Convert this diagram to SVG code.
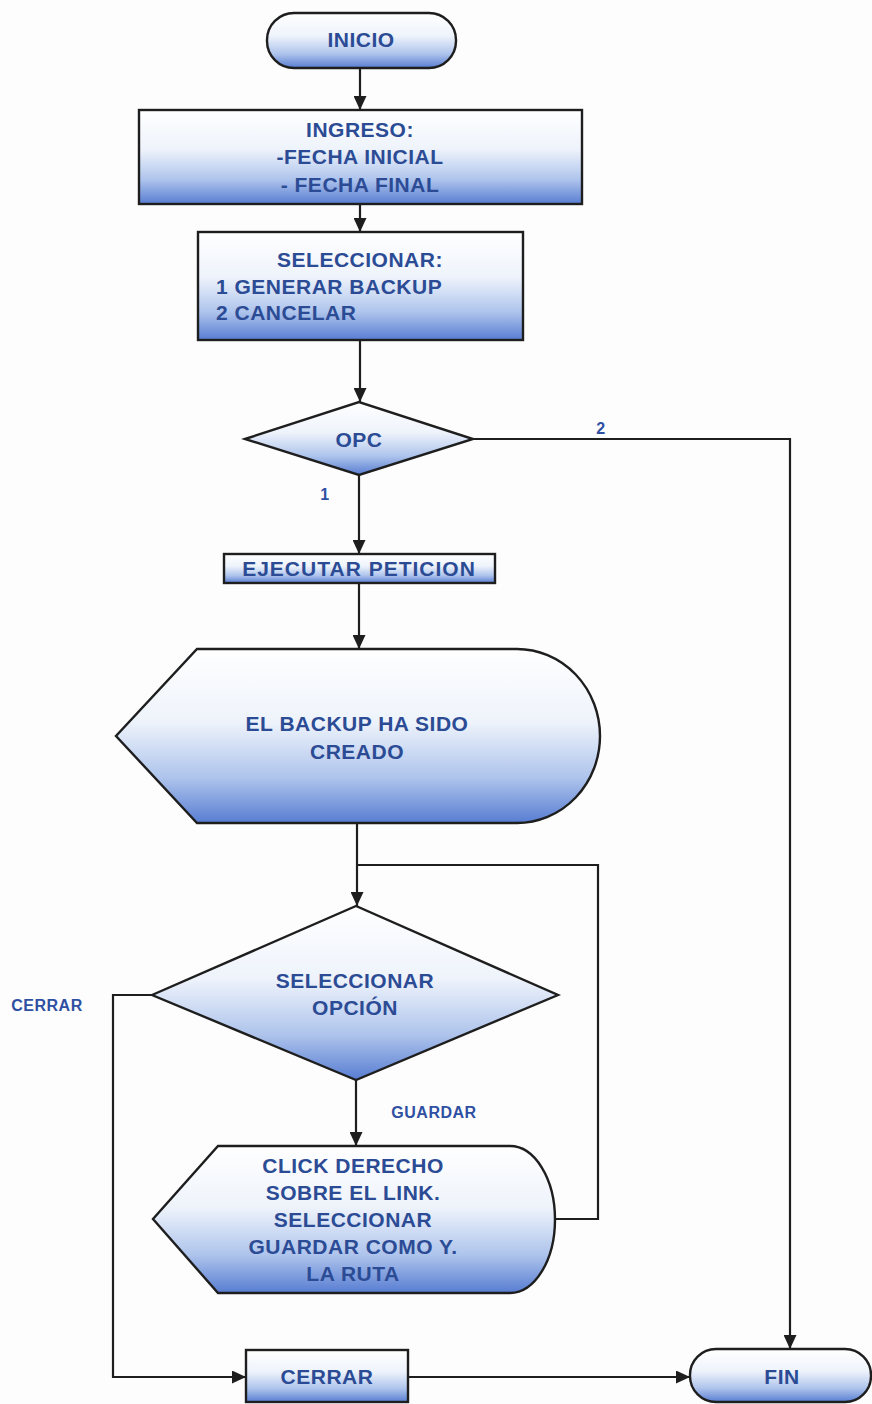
<svg xmlns="http://www.w3.org/2000/svg" width="872" height="1404" viewBox="0 0 872 1404">
  <defs>
    <linearGradient id="fillBlue" x1="0" y1="0" x2="0" y2="1">
      <stop offset="0" stop-color="#ffffff"/>
      <stop offset="0.42" stop-color="#eef3fb"/>
      <stop offset="0.74" stop-color="#aec4ec"/>
      <stop offset="1" stop-color="#587dd2"/>
    </linearGradient>
    <marker id="arrow" markerUnits="userSpaceOnUse" markerWidth="15" markerHeight="13" refX="14" refY="6.5" orient="auto">
      <path d="M0,0 L14,6.5 L0,13 Z" fill="#1e1e1e"/>
    </marker>
    <style>
      .shape { fill: url(#fillBlue); stroke: #1e1e1e; stroke-width: 2.4; }
      .link { fill: none; stroke: #1e1e1e; stroke-width: 2.2; }
      .txt { font-family: "Liberation Sans", Arial, sans-serif; font-weight: bold; font-size: 21px; fill: #2c4b95; letter-spacing: 0.5px; text-anchor: middle; }
      .left { text-anchor: start; }
      .lbl { font-family: "Liberation Sans", Arial, sans-serif; font-weight: bold; font-size: 16px; fill: #2f50a2; letter-spacing: 0.5px; text-anchor: middle; }
    </style>
  </defs>

  <rect width="872" height="1404" fill="#fdfdfe"/>

  <!-- connectors -->
  <g id="connectors">
    <path class="link" d="M360,68 V110" marker-end="url(#arrow)"/>
    <path class="link" d="M360,204 V232" marker-end="url(#arrow)"/>
    <path class="link" d="M360,340 V402" marker-end="url(#arrow)"/>
    <path class="link" d="M473,439 H790 V1349" marker-end="url(#arrow)"/>
    <path class="link" d="M359,475 V554" marker-end="url(#arrow)"/>
    <path class="link" d="M359,583 V649" marker-end="url(#arrow)"/>
    <path class="link" d="M357,823 V906" marker-end="url(#arrow)"/>
    <path class="link" d="M555,1219 H598 V865 H357"/>
    <path class="link" d="M356,1080 V1146" marker-end="url(#arrow)"/>
    <path class="link" d="M152,995 H113 V1377 H246" marker-end="url(#arrow)"/>
    <path class="link" d="M408,1377 H690" marker-end="url(#arrow)"/>
    <text class="lbl" x="601" y="434">2</text>
    <text class="lbl" x="325" y="500">1</text>
    <text class="lbl" x="47" y="1011">CERRAR</text>
    <text class="lbl" x="434" y="1118">GUARDAR</text>
  </g>

  <g id="inicio">
    <rect class="shape" x="267" y="13" width="189" height="55" rx="27" ry="27"/>
    <text class="txt" x="361" y="47">INICIO</text>
  </g>

  <g id="ingreso">
    <rect class="shape" x="139" y="110" width="443" height="94"/>
    <text class="txt" x="360" y="137">INGRESO:</text>
    <text class="txt" x="360" y="164">-FECHA INICIAL</text>
    <text class="txt" x="360" y="192">- FECHA FINAL</text>
  </g>

  <g id="seleccionar">
    <rect class="shape" x="198" y="232" width="325" height="108"/>
    <text class="txt" x="360" y="267">SELECCIONAR:</text>
    <text class="txt left" x="216" y="294">1 GENERAR BACKUP</text>
    <text class="txt left" x="216" y="320">2 CANCELAR</text>
  </g>

  <g id="opc">
    <polygon class="shape" points="245,439 359,402 473,439 359,475"/>
    <text class="txt" x="359" y="447">OPC</text>
  </g>

  <g id="ejecutar">
    <rect class="shape" x="224" y="554" width="271" height="29"/>
    <text class="txt" x="359" y="576" style="letter-spacing:1px">EJECUTAR PETICION</text>
  </g>

  <g id="backup-creado">
    <path class="shape" d="M197,649 H517 A83,87 0 0 1 517,823 H197 L116,736 Z"/>
    <text class="txt" x="357" y="731">EL BACKUP HA SIDO</text>
    <text class="txt" x="357" y="759">CREADO</text>
  </g>

  <g id="seleccionar-opcion">
    <polygon class="shape" points="152,995 356,906 558,995 356,1080"/>
    <text class="txt" x="355" y="988">SELECCIONAR</text>
    <text class="txt" x="355" y="1015">OPCIÓN</text>
  </g>

  <g id="click-derecho">
    <path class="shape" d="M218,1146 H510 A45,73.5 0 0 1 510,1293 H218 L153,1219 Z"/>
    <text class="txt" x="353" y="1173">CLICK DERECHO</text>
    <text class="txt" x="353" y="1200">SOBRE EL LINK.</text>
    <text class="txt" x="353" y="1227">SELECCIONAR</text>
    <text class="txt" x="353" y="1254">GUARDAR COMO Y.</text>
    <text class="txt" x="353" y="1281">LA RUTA</text>
  </g>

  <g id="cerrar">
    <rect class="shape" x="246" y="1350" width="162" height="52"/>
    <text class="txt" x="327" y="1384">CERRAR</text>
  </g>

  <g id="fin">
    <rect class="shape" x="690" y="1349" width="181" height="53" rx="26" ry="26"/>
    <text class="txt" x="782" y="1384">FIN</text>
  </g>
</svg>
